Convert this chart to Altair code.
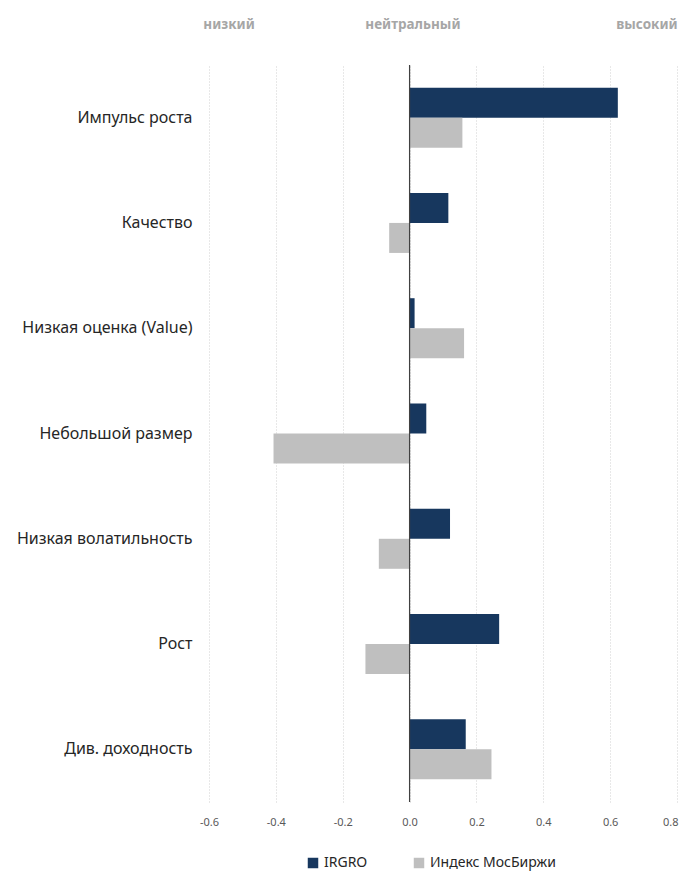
import altair as alt
import pandas as pd

categories = ["Импульс роста", "Качество", "Низкая оценка (Value)", "Небольшой размер",
              "Низкая волатильность", "Рост", "Див. доходность"]
series = ["IRGRO", "Индекс МосБиржи"]
irgro = [0.623, 0.116, 0.015, 0.050, 0.121, 0.268, 0.168]
moex = [0.158, -0.061, 0.163, -0.407, -0.092, -0.132, 0.245]
colors = ["#17375e", "#bfbfbf"]
x_ticks = [-0.6, -0.4, -0.2, 0.0, 0.2, 0.4, 0.6, 0.8]
top_labels = ["низкий", "нейтральный", "высокий"]
top_label_x = [-0.54, 0.01, 0.71]

rows = []
for c, a, b in zip(categories, irgro, moex):
    rows.append({"cat": c, "series": series[0], "value": a})
    rows.append({"cat": c, "series": series[1], "value": b})
df = pd.DataFrame(rows)
top_df = pd.DataFrame({"label": top_labels, "x": top_label_x})

FONT = "Noto Sans"

xscale = alt.Scale(domain=[-0.6, 0.8], nice=False, zero=False)

bars = alt.Chart(df).mark_bar().encode(
    x=alt.X("value:Q", scale=xscale,
            axis=alt.Axis(values=x_ticks, title=None, domain=False, ticks=False,
                          labelExpr="datum.value < 0 ? '-' + format(-datum.value, '.1f') : format(datum.value, '.1f')",
                          labelFlush=False,
                          labelAlign={"condition": {"test": "datum.value >= 0.79", "value": "right"}, "value": "center"},
                          labelOffset={"condition": {"test": "datum.value >= 0.79", "value": 1}, "value": 0},
                          grid=True, gridColor="#d0d0d0", gridDash=[1, 2], gridWidth=1,
                          labelColor="#595959", labelFontSize=11, labelFont=FONT, labelPadding=14)),
    y=alt.Y("cat:N", sort=categories,
            scale=alt.Scale(paddingInner=0.43, paddingOuter=0.215),
            axis=alt.Axis(title=None, domain=False, ticks=False, labelFontSize=16,
                          labelColor="#262626", labelFont=FONT, labelPadding=17, labelLimit=300)),
    yOffset=alt.YOffset("series:N", sort=series),
    color=alt.Color("series:N", sort=series,
                    scale=alt.Scale(domain=series, range=colors),
                    legend=alt.Legend(title=None, orient="none", direction="horizontal",
                                      legendX=97, legendY=791,
                                      symbolType="square", symbolSize=110, labelFontSize=14,
                                      labelFont=FONT, labelColor="#262626",
                                      columnPadding=44, symbolStrokeWidth=0)),
)

zero = alt.Chart(pd.DataFrame({"x": [0.0]})).mark_rule(color="#404040", strokeWidth=1.2).encode(
    x=alt.X("x:Q", scale=xscale)
)

top = alt.Chart(top_df).mark_text(fontSize=13.5, fontWeight="bold", color="#a6a6a6", font=FONT,
                                   baseline="middle").encode(
    x=alt.X("x:Q", scale=xscale),
    y=alt.value(-40),
    text="label:N",
)

chart = alt.layer(bars, zero, top).properties(
    width=468, height=737,
    autosize=alt.AutoSizeParams(type="none"),
    padding={"left": 201, "top": 57, "right": 2, "bottom": 70},
).configure_view(stroke=None)

chart.save("out.html", embed_options={"renderer": "svg", "actions": False})
